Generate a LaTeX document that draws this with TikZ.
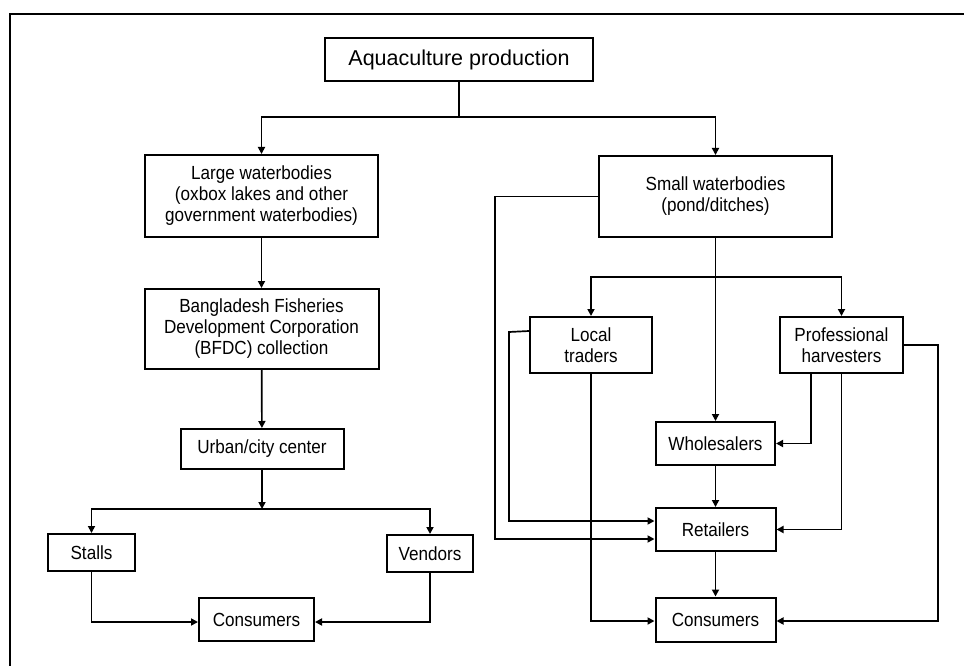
\documentclass[tikz,border=0pt]{standalone}
\usepackage{fontspec}
\setmainfont{Liberation Sans}[FakeStretch=0.9]
\newfontfamily\titlefont{Liberation Sans}
\usetikzlibrary{arrows.meta,calc}
\begin{document}
\begin{tikzpicture}[x=1pt,y=-1pt,
  box/.style={draw,line width=2pt,inner sep=0pt,align=center,
    font=\fontsize{19}{21}\selectfont},
  conn/.style={line width=1.7pt},
  arr/.style={conn,-{Triangle[length=7pt,width=7pt]}},
  frame/.style={line width=2.6pt}]
\useasboundingbox (0,0) rectangle (964,666);
\fill[white] (0,0) rectangle (964,666);
% frame lines
\coordinate (fa) at (10,14);
\coordinate (fb) at (964,14);
\coordinate (fc) at (10,666);
\draw[frame] (fc) -- (fa) -- (fb);

% nodes
\node[box,minimum width=268pt,minimum height=43pt,font=\titlefont\fontsize{21.5}{24}\selectfont] (prod) at (459,59.5) {Aquaculture production};
\node[box,minimum width=233pt,minimum height=82pt] (large) at (261.5,196) {Large waterbodies\\(oxbox lakes and other\\government waterbodies)};
\node[box,minimum width=233pt,minimum height=81pt] (small) at (715.5,196.5) {Small waterbodies\\(pond/ditches)};
\node[box,minimum width=234pt,minimum height=80pt] (bfdc) at (261.5,329) {Bangladesh Fisheries\\Development Corporation\\(BFDC) collection};
\node[box,minimum width=163pt,minimum height=40pt] (urban) at (262,449) {Urban/city center};
\node[box,minimum width=87pt,minimum height=37pt] (stalls) at (91.5,552.5) {Stalls};
\node[box,minimum width=86pt,minimum height=37pt] (vendors) at (430,553.5) {Vendors};
\node[box,minimum width=115pt,minimum height=43pt] (consL) at (256.5,619.5) {Consumers};
\node[box,minimum width=122pt,minimum height=56pt] (local) at (591,345) {Local\\traders};
\node[box,minimum width=123pt,minimum height=56pt] (prof) at (841.5,345) {Professional\\harvesters};
\node[box,minimum width=119pt,minimum height=43pt] (whole) at (715.5,443.5) {Wholesalers};
\node[box,minimum width=120pt,minimum height=43pt] (retail) at (715.5,529.5) {Retailers};
\node[box,minimum width=120pt,minimum height=44pt] (consR) at (715.5,619.5) {Consumers};

% junctions
\coordinate (j1) at (459,117);
\coordinate (j2) at (715.5,277);
\coordinate (j3) at (262,509);

% top split
\draw[conn] (prod.south) -- (j1);
\draw[arr] (j1) -| (large.north);
\draw[arr] (j1) -| (small.north);

% left branch
\draw[arr] (large) -- (bfdc);
\draw[arr] (bfdc) -- (urban);
\draw[arr] (urban) -- (j3);
\draw[arr] (j3) -| (stalls.north);
\draw[arr] (j3) -| (vendors.north);
\draw[arr] (stalls.south) |- ($(consL.west)+(0,2.5)$);
\draw[arr] (vendors.south) |- ($(consL.east)+(0,2.5)$);

% right branch
\draw[arr] (small.south) -- (whole.north);
\draw[arr] (j2) -| (local.north);
\draw[arr] (j2) -| (prof.north);
\coordinate (sw) at (495,196.5);
\draw[arr] (small.west) -- (sw) |- ($(retail.west)+(0,9.5)$);
\coordinate (lw) at (509,332);
\draw[arr] ($(local.north west)+(0,15)$) -- (lw) |- ($(retail.west)+(0,-8.5)$);
\draw[arr] (local.south) |- ($(consR.west)+(0,1.5)$);
\draw[arr] ($(prof.south)+(-30.5,0)$) |- (whole.east);
\draw[arr] (prof.south) |- (retail.east);
\coordinate (pe) at (938,345);
\draw[arr] (prof.east) -- (pe) |- ($(consR.east)+(0,1.5)$);
\draw[arr] (whole) -- (retail);
\draw[arr] (retail) -- (consR);
\end{tikzpicture}
\end{document}
